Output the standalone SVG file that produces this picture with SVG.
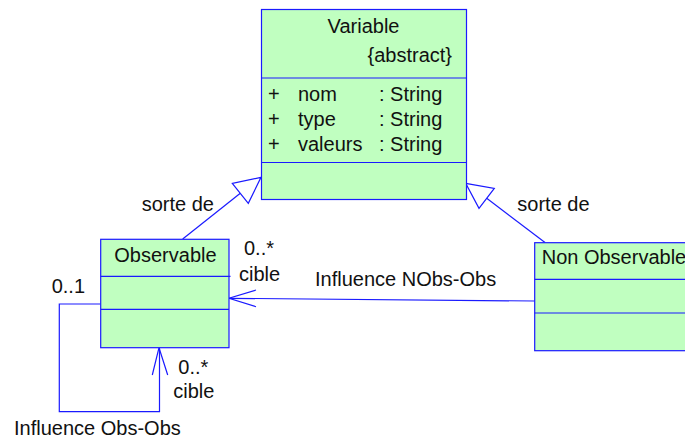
<svg xmlns="http://www.w3.org/2000/svg" width="685" height="442" viewBox="0 0 685 442">
<style>
.box{fill:#c0ffc0;stroke:#1a1aff;stroke-width:1.2}
.div{stroke:#1a1aff;stroke-width:1.2;fill:none}
.ln{stroke:#1a1aff;stroke-width:1.2;fill:none}
.tri{stroke:#1a1aff;stroke-width:1.2;fill:#fff}
text{font-family:"Liberation Sans",Arial,sans-serif;font-size:20px;fill:#111}
</style>
<rect width="685" height="442" fill="#fff"/>
<g id="connectors">
<!-- generalization Observable -> Variable -->
<line class="ln" x1="182.7" y1="239" x2="240.3" y2="193.3"/>
<polygon class="tri" points="261,177.3 232.3,183.3 248.3,203.3"/>
<!-- generalization Non Observable -> Variable -->
<line class="ln" x1="545" y1="242.5" x2="486.7" y2="198.3"/>
<polygon class="tri" points="465.7,183.3 494.3,188.3 479,208.3"/>
<!-- Influence NObs-Obs -->
<polyline class="ln" points="534.7,301 229,298.3"/>
<polyline class="ln" points="256,290 229,298.3 256,306.7"/>
<!-- Influence Obs-Obs self loop -->
<polyline class="ln" points="100.7,304 59.3,304 59.3,411.7 159.5,411.7 159.5,347.7"/>
<polyline class="ln" points="152.3,375 159,347.7 167.7,375"/>
</g>
<g id="Variable">
<rect class="box" x="261.5" y="9.5" width="205" height="190"/>
<line class="div" x1="261.5" y1="78" x2="466.5" y2="78"/>
<line class="div" x1="261.5" y1="162.5" x2="466.5" y2="162.5"/>
<text x="363.5" y="33" text-anchor="middle">Variable</text>
<text x="452" y="62" text-anchor="end">{abstract}</text>
<text x="268" y="101">+</text><text x="298" y="101">nom</text><text x="379" y="101">: String</text>
<text x="268" y="126">+</text><text x="298" y="126">type</text><text x="379" y="126">: String</text>
<text x="268" y="151">+</text><text x="298" y="151">valeurs</text><text x="379" y="151">: String</text>
</g>
<g id="Observable">
<rect class="box" x="100.7" y="239.3" width="128.3" height="108.4"/>
<line class="div" x1="100.7" y1="276.3" x2="230.5" y2="276.3"/>
<line class="div" x1="100.7" y1="309.3" x2="229" y2="309.3"/>
<text x="114.3" y="261.7">Observable</text>
</g>
<g id="NonObservable">
<rect class="box" x="534.7" y="242.7" width="160" height="108"/>
<line class="div" x1="534.7" y1="279.3" x2="685" y2="279.3"/>
<line class="div" x1="534.7" y1="313" x2="685" y2="313"/>
<text x="541.7" y="264.3">Non Observable</text>
</g>
<g id="labels">
<text x="141.7" y="210.7">sorte de</text>
<text x="517.3" y="210.7">sorte de</text>
<text x="244" y="255">0..*</text>
<text x="239" y="280.7">cible</text>
<text x="315" y="285.7">Influence NObs-Obs</text>
<text x="51.7" y="293.3">0..1</text>
<text x="178.3" y="374">0..*</text>
<text x="173.3" y="398.3">cible</text>
<text x="14" y="435">Influence Obs-Obs</text>
</g>
</svg>
